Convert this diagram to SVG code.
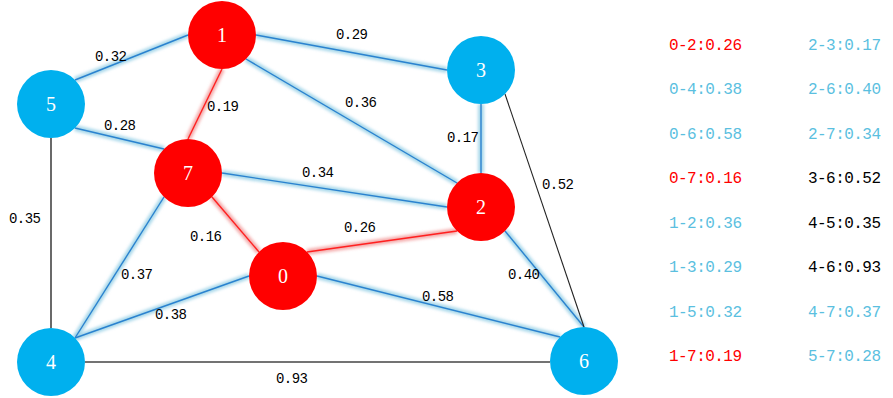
<svg xmlns="http://www.w3.org/2000/svg" width="893" height="398" viewBox="0 0 893 398">
<defs>
<filter id="glow" x="-20%" y="-20%" width="140%" height="140%" filterUnits="userSpaceOnUse">
<feGaussianBlur stdDeviation="1.6"/>
</filter>
<filter id="soft" x="-10%" y="-10%" width="120%" height="120%">
<feGaussianBlur stdDeviation="0.6"/>
</filter>
<style>
.gb{stroke:#8ccbe3;stroke-width:6;stroke-opacity:0.75;fill:none;filter:url(#glow)}
.gr{stroke:#f08a8a;stroke-width:6;stroke-opacity:0.7;fill:none;filter:url(#glow)}
.eb{stroke:#2a82cf;stroke-width:1.4;fill:none}
.er{stroke:#ff2020;stroke-width:1.4;fill:none}
.ek{stroke:#444;stroke-width:1.6;fill:none}
.ek1{stroke:#222;stroke-width:1.1;fill:none}
.nr{fill:#ff0000}
.nb{fill:#00b0ee}
.nl{font-family:"Liberation Serif",serif;font-size:20px;fill:#fff;text-anchor:middle;dominant-baseline:central}
.el{font-family:"Liberation Mono",monospace;font-size:14px;fill:#000;text-anchor:middle;dominant-baseline:central}
.lg{font-family:"Liberation Mono",monospace;font-size:16px}
.lr{fill:#ff0000}.lb{fill:#5bbfdf}.lk{fill:#000}
</style>
</defs>
<rect width="893" height="398" fill="#fff"/>
<g id="connectors">
<g id="glows">
<line class="gr" x1="307" y1="252" x2="457" y2="231"/>
<line class="gb" x1="249" y1="276" x2="75" y2="338"/>
<line class="gb" x1="317" y1="276" x2="560" y2="337"/>
<line class="gr" x1="259" y1="252" x2="212" y2="197"/>
<line class="gb" x1="246" y1="59" x2="457" y2="183"/>
<line class="gb" x1="256" y1="35" x2="447" y2="70"/>
<line class="gb" x1="188" y1="35" x2="75" y2="80"/>
<line class="gr" x1="222" y1="69" x2="188" y2="139"/>
<line class="gb" x1="481" y1="173" x2="481" y2="104"/>
<line class="gb" x1="505" y1="231" x2="584" y2="327"/>
<line class="gb" x1="447" y1="207" x2="222" y2="173"/>
<line class="gb" x1="75" y1="338" x2="164" y2="197"/>
<line class="gb" x1="75" y1="128" x2="164" y2="149"/>
</g>
<line class="er" x1="307" y1="252" x2="457" y2="231"/>
<line class="eb" x1="249" y1="276" x2="75" y2="338"/>
<line class="eb" x1="317" y1="276" x2="560" y2="337"/>
<line class="er" x1="259" y1="252" x2="212" y2="197"/>
<line class="eb" x1="246" y1="59" x2="457" y2="183"/>
<line class="eb" x1="256" y1="35" x2="447" y2="70"/>
<line class="eb" x1="188" y1="35" x2="75" y2="80"/>
<line class="er" x1="222" y1="69" x2="188" y2="139"/>
<line class="eb" x1="481" y1="173" x2="481" y2="104"/>
<line class="eb" x1="505" y1="231" x2="584" y2="327"/>
<line class="eb" x1="447" y1="207" x2="222" y2="173"/>
<line class="ek1" x1="505" y1="94" x2="584" y2="327"/>
<line class="ek" x1="51" y1="328" x2="51" y2="138"/>
<line class="ek" x1="85" y1="362" x2="550" y2="362"/>
<line class="eb" x1="75" y1="338" x2="164" y2="197"/>
<line class="eb" x1="75" y1="128" x2="164" y2="149"/>
<g id="edge-labels">
<text class="el" x="111" y="57" textLength="32">0.32</text>
<text class="el" x="352" y="35" textLength="32">0.29</text>
<text class="el" x="223" y="107" textLength="32">0.19</text>
<text class="el" x="120" y="126" textLength="32">0.28</text>
<text class="el" x="361" y="103" textLength="32">0.36</text>
<text class="el" x="463" y="138" textLength="32">0.17</text>
<text class="el" x="318" y="173" textLength="32">0.34</text>
<text class="el" x="558" y="185" textLength="32">0.52</text>
<text class="el" x="25" y="219" textLength="32">0.35</text>
<text class="el" x="206" y="237" textLength="32">0.16</text>
<text class="el" x="360" y="228" textLength="32">0.26</text>
<text class="el" x="137" y="275" textLength="32">0.37</text>
<text class="el" x="171" y="315" textLength="32">0.38</text>
<text class="el" x="438" y="297" textLength="32">0.58</text>
<text class="el" x="524" y="275" textLength="32">0.40</text>
<text class="el" x="292" y="379" textLength="32">0.93</text>
</g>
</g>
<g id="node-0"><circle class="nr" cx="283" cy="276" r="34" filter="url(#soft)"/><text class="nl" x="283" y="276">0</text></g>
<g id="node-1"><circle class="nr" cx="222" cy="35" r="34" filter="url(#soft)"/><text class="nl" x="222" y="35">1</text></g>
<g id="node-2"><circle class="nr" cx="481" cy="207" r="34" filter="url(#soft)"/><text class="nl" x="481" y="207">2</text></g>
<g id="node-3"><circle class="nb" cx="481" cy="70" r="34" filter="url(#soft)"/><text class="nl" x="481" y="70">3</text></g>
<g id="node-4"><circle class="nb" cx="51" cy="362" r="34" filter="url(#soft)"/><text class="nl" x="51" y="362">4</text></g>
<g id="node-5"><circle class="nb" cx="51" cy="104" r="34" filter="url(#soft)"/><text class="nl" x="51" y="104">5</text></g>
<g id="node-6"><circle class="nb" cx="584" cy="361" r="34" filter="url(#soft)"/><text class="nl" x="584" y="361">6</text></g>
<g id="node-7"><circle class="nr" cx="188" cy="173" r="34" filter="url(#soft)"/><text class="nl" x="188" y="173">7</text></g>
<g id="legend" class="lg">
<text class="lr" x="669" y="50" textLength="73">0-2:0.26</text>
<text class="lb" x="669" y="94" textLength="73">0-4:0.38</text>
<text class="lb" x="669" y="139" textLength="73">0-6:0.58</text>
<text class="lr" x="669" y="183" textLength="73">0-7:0.16</text>
<text class="lb" x="669" y="228" textLength="73">1-2:0.36</text>
<text class="lb" x="669" y="272" textLength="73">1-3:0.29</text>
<text class="lb" x="669" y="317" textLength="73">1-5:0.32</text>
<text class="lr" x="669" y="361" textLength="73">1-7:0.19</text>
<text class="lb" x="808" y="50" textLength="73">2-3:0.17</text>
<text class="lb" x="808" y="94" textLength="73">2-6:0.40</text>
<text class="lb" x="808" y="139" textLength="73">2-7:0.34</text>
<text class="lk" x="808" y="183" textLength="73">3-6:0.52</text>
<text class="lk" x="808" y="228" textLength="73">4-5:0.35</text>
<text class="lk" x="808" y="272" textLength="73">4-6:0.93</text>
<text class="lb" x="808" y="317" textLength="73">4-7:0.37</text>
<text class="lb" x="808" y="361" textLength="73">5-7:0.28</text>
</g>
</svg>
